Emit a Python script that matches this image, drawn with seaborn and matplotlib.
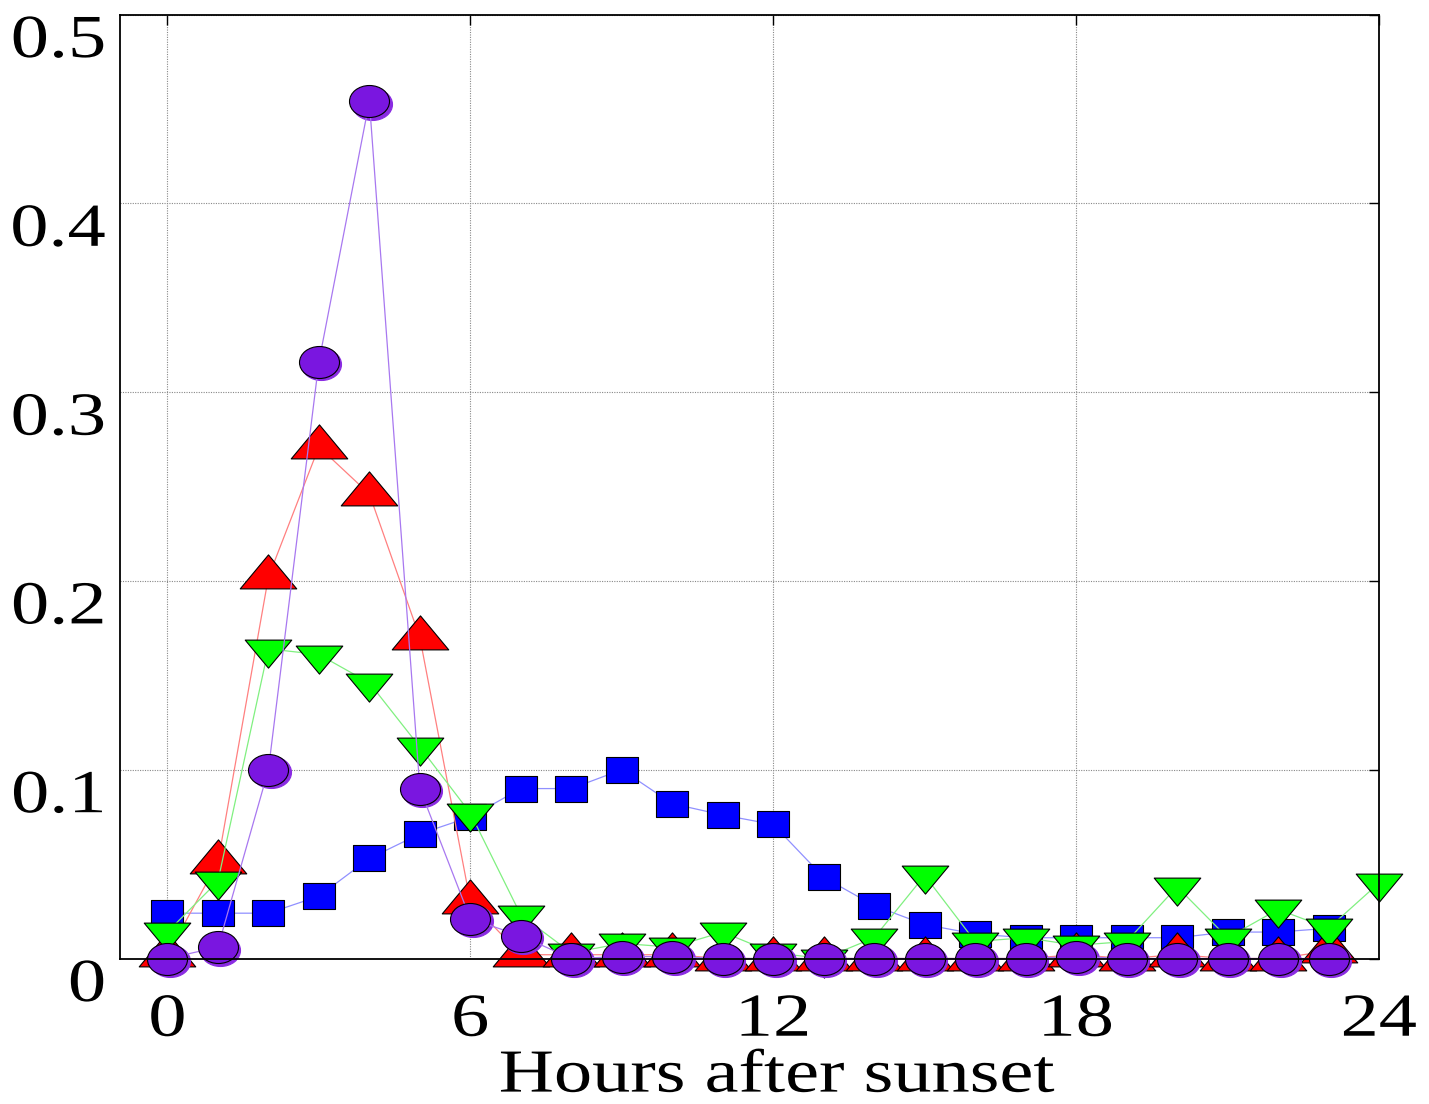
import numpy as np
import pandas as pd
import matplotlib
matplotlib.use("Agg")
import matplotlib.pyplot as plt
import seaborn as sns
from matplotlib.path import Path
from matplotlib.patheffects import AbstractPathEffect
from matplotlib.transforms import Affine2D, offset_copy

# ---- data: fraction of events per hour after sunset ----
hours = list(range(24))
hours_green = list(range(25))

blue_sq = [0.024, 0.024, 0.024, 0.033, 0.053, 0.066, 0.075, 0.090, 0.090, 0.100,
           0.082, 0.076, 0.071, 0.043, 0.028, 0.018, 0.013, 0.011, 0.011, 0.011,
           0.011, 0.014, 0.014, 0.016]
red_up = [0.002, 0.051, 0.202, 0.271, 0.246, 0.170, 0.030, 0.002, 0.002, 0.002,
          0.002, 0.000, 0.000, 0.000, 0.000, 0.000, 0.000, 0.000, 0.002, 0.000,
          0.002, 0.000, 0.000, 0.004]
green_down = [0.014, 0.041, 0.164, 0.161, 0.146, 0.112, 0.077, 0.023, 0.003, 0.008,
              0.006, 0.014, 0.003, 0.000, 0.011, 0.044, 0.009, 0.011, 0.007, 0.009,
              0.038, 0.011, 0.026, 0.016, 0.040]
purple_circ = [0.000, 0.006, 0.100, 0.316, 0.454, 0.090, 0.021, 0.012, 0.000, 0.001,
               0.001, 0.000, 0.000, 0.000, 0.000, 0.000, 0.000, 0.000, 0.001, 0.000,
               0.000, 0.000, 0.000, 0.000]

x_ticks = [0, 6, 12, 18, 24]
x_ticklabels = ["0", "6", "12", "18", "24"]
y_ticks = [0, 0.1, 0.2, 0.3, 0.4, 0.5]
y_ticklabels = ["0", "0.1", "0.2", "0.3", "0.4", "0.5"]
x_label = "Hours after sunset"

# ---- styling ----
SX = 1.25          # horizontal stretch of glyphs and markers
DPI = 100
PT_PER_PX = 72.0 / DPI
SERIF = ["Liberation Serif", "DejaVu Serif"]
FS = 44


class HStretch(AbstractPathEffect):
    """Stretch rendered text horizontally about a chosen anchor."""

    def __init__(self, sx=SX, anchor="center"):
        super().__init__()
        self.sx = sx
        self.anchor = anchor

    def draw_path(self, renderer, gc, tpath, affine, rgbFace=None):
        bb = tpath.get_extents(affine)
        ax0 = {"left": bb.x0, "center": 0.5 * (bb.x0 + bb.x1), "right": bb.x1}[self.anchor]
        t = affine + Affine2D().translate(-ax0, 0).scale(self.sx, 1).translate(ax0, 0)
        renderer.draw_path(gc, tpath, t, rgbFace)


def closed(verts):
    verts = list(verts) + [verts[0]]
    codes = [Path.MOVETO] + [Path.LINETO] * (len(verts) - 2) + [Path.CLOSEPOLY]
    return Path(verts, codes)


tri_up = closed([(0, 1.33), (-1.33 * SX, -0.67), (1.33 * SX, -0.67)])
tri_down = closed([(0, -1.33), (1.33 * SX, 0.67), (-1.33 * SX, 0.67)])
square = closed([(-SX, -1), (SX, -1), (SX, 1), (-SX, 1)])
_c = Path.unit_circle()
ellipse = Path(_c.vertices * np.array([SX, 1.0]), _c.codes)


def msize(path, px_per_unit):
    m = np.max(np.abs(path.vertices))
    return 2 * px_per_unit * m * PT_PER_PX


sns.set_theme(style="white")
plt.rcParams["font.serif"] = SERIF
plt.rcParams["font.family"] = SERIF

W, H = 1429, 1104
fig = plt.figure(figsize=(W / DPI, H / DPI), dpi=DPI)
ax_left, ax_right, ax_top, ax_bot = 119.5, 1379.0, 14.5, 958.5
ax = fig.add_axes([ax_left / W, 1 - ax_bot / H, (ax_right - ax_left) / W, (ax_bot - ax_top) / H])

common = dict(ax=ax, errorbar=None, clip_on=False, markeredgecolor="black",
              markeredgewidth=0.8, linewidth=0.9)

sns.lineplot(x=hours, y=blue_sq, marker=square,
             markersize=msize(square, 13), markerfacecolor="#0000ff", **common)
ax.lines[-1].set_color("#9090ff")

sns.lineplot(x=hours, y=red_up, marker=tri_up,
             markersize=msize(tri_up, 17), markerfacecolor="#ff0000", **common)
ax.lines[-1].set_color("#ff8080")

sns.lineplot(x=hours_green, y=green_down, marker=tri_down,
             markersize=msize(tri_down, 14), markerfacecolor="#00ff00", **common)
ax.lines[-1].set_color("#80f080")

# purple circles carry a small drop shadow
shadow = offset_copy(ax.transData, fig=fig, x=2.5, y=-2.5, units="dots")
sns.lineplot(x=hours, y=purple_circ, ax=ax, errorbar=None, clip_on=False,
             linestyle="none", marker=ellipse, markersize=msize(ellipse, 16),
             markerfacecolor="#8a2be2", markeredgecolor="#8a2be2",
             markeredgewidth=0.8, transform=shadow)
sns.lineplot(x=hours, y=purple_circ, marker=ellipse,
             markersize=msize(ellipse, 16), markerfacecolor="#7a16e0", **common)
ax.lines[-1].set_color("#a878f0")
ax.lines[-1].set_markeredgecolor("black")

# ---- axes ----
ax.set_xlim(-0.95, 24.0)
ax.set_ylim(0, 0.5)
ax.set_xticks(x_ticks)
ax.set_xticklabels(x_ticklabels, family=SERIF, fontsize=FS)
ax.set_yticks(y_ticks)
ax.set_yticklabels(y_ticklabels, family=SERIF, fontsize=FS)
ax.set_ylabel("")

ax.grid(True, color="#888888", linestyle=(0, (1, 1.2)), linewidth=0.8)
ax.set_axisbelow(True)
for s in ax.spines.values():
    s.set_color("black")
    s.set_linewidth(1.3)
    s.set_visible(True)

ax.tick_params(axis="both", direction="in", length=7, width=1, colors="black",
               labelsize=FS, top=True, right=True)
ax.tick_params(axis="x", pad=25)
ax.tick_params(axis="y", pad=10)

for lab in ax.get_xticklabels():
    lab.set_path_effects([HStretch(anchor="center")])
for lab in ax.get_yticklabels():
    lab.set_va("top")
    lab.set_path_effects([HStretch(anchor="right")])

ax.set_xlabel(x_label, fontsize=FS, family=SERIF, va="baseline", color="black")
ax.xaxis.set_label_coords(0.522, -0.141)
ax.xaxis.label.set_path_effects([HStretch(anchor="center")])

fig.savefig("out.png", dpi=DPI)
